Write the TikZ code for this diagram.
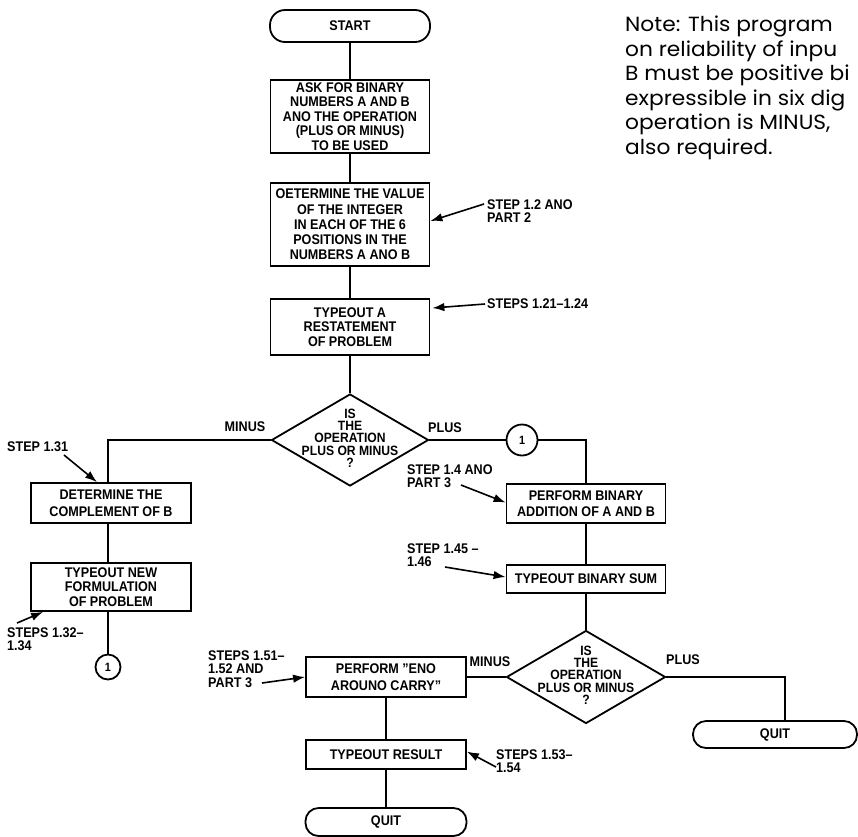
\documentclass[tikz,border=0pt]{standalone}
\usepackage{fontspec}
\setmainfont{Liberation Sans}
\newfontfamily\fc{Liberation Sans}[Ligatures=TeX, FakeStretch=0.9]
\newfontfamily\notefont{Poppins}[FakeStretch=1.06]
\usetikzlibrary{arrows.meta,shapes.geometric}
\tikzset{
  lw/.style={line width=1.8pt},
  txt/.style={font=\fc\bfseries\fontsize{14}{14.5}\selectfont, align=center, inner sep=0pt},
  lbl/.style={font=\fc\bfseries\fontsize{14}{13.5}\selectfont, align=left, inner sep=0pt, anchor=west},
  box/.style={txt, draw, lw, rectangle},
  term/.style={txt, draw, lw, rectangle, rounded corners=#1},
  dia/.style={draw, lw, diamond, inner sep=0pt},
  dtext/.style={font=\fc\bfseries\fontsize{13.5}{12.3}\selectfont, align=center, inner sep=0pt},
  conn/.style={draw, lw, circle, inner sep=0pt, font=\fc\bfseries\fontsize{12}{12}\selectfont},
  flow/.style={lw},
  ptr/.style={line width=1.6pt, -{Latex[length=12pt,width=8.5pt]}},
}
\begin{document}
\begin{tikzpicture}[x=1pt,y=-1pt]
\useasboundingbox (0,0) rectangle (858,836);

% main column
\node[term=15pt, minimum width=160pt, minimum height=32pt] (start) at (350,26) {START};
\node[box, minimum width=159pt, minimum height=73pt] (b1) at (350,116.5)
  {ASK FOR BINARY\\NUMBERS A AND B\\ANO THE OPERATION\\(PLUS OR MINUS)\\TO BE USED};
\node[box, minimum width=159pt, minimum height=83pt, font=\fc\bfseries\fontsize{14}{15.2}\selectfont] (b2) at (350,224.5)
  {OETERMINE THE VALUE\\OF THE INTEGER\\IN EACH OF THE 6\\POSITIONS IN THE\\NUMBERS A ANO B};
\node[box, minimum width=159pt, minimum height=56pt] (b3) at (350,327)
  {TYPEOUT A\\RESTATEMENT\\OF PROBLEM};
\node[dia, minimum width=157pt, minimum height=92pt] (d1) at (350,440) {};
\node[dtext] (d1t) at (350,438) {IS\\THE\\OPERATION\\PLUS OR MINUS\\?};

% right branch
\node[conn, minimum size=31pt] (c1) at (522,440) {1};
\node[box, minimum width=159pt, minimum height=39pt, font=\fc\bfseries\fontsize{14}{16.5}\selectfont] (b4) at (586,503.5)
  {PERFORM BINARY\\ADDITION OF A AND B};
\node[box, minimum width=159pt, minimum height=28pt] (b5) at (586,579) {TYPEOUT BINARY SUM};
\node[dia, minimum width=159pt, minimum height=93pt] (d2) at (586,677) {};
\node[dtext] (d2t) at (586,675) {IS\\THE\\OPERATION\\PLUS OR MINUS\\?};
\node[term=13pt, minimum width=164pt, minimum height=27pt] (q2) at (775,734.5) {QUIT};
\node[box, minimum width=160pt, minimum height=40pt, font=\fc\bfseries\fontsize{14}{16.5}\selectfont] (b6) at (386,677)
  {PERFORM "ENO\\AROUNO CARRY"};
\node[box, minimum width=160pt, minimum height=29pt] (b7) at (386,754.5) {TYPEOUT RESULT};
\node[term=13pt, minimum width=161pt, minimum height=28pt] (q1) at (386,822) {QUIT};

% left branch
\node[box, minimum width=160pt, minimum height=40pt, font=\fc\bfseries\fontsize{14}{17}\selectfont] (b8) at (111,503)
  {DETERMINE THE\\COMPLEMENT OF B};
\node[box, minimum width=160pt, minimum height=48pt] (b9) at (111,587)
  {TYPEOUT NEW\\FORMULATION\\OF PROBLEM};
\node[conn, minimum size=25pt] (c2) at (108,667) {1};

% branch labels
\node[lbl, anchor=center] (lm1) at (245,427) {MINUS};
\node[lbl, anchor=center] (lp1) at (445,428) {PLUS};
\node[lbl, anchor=center] (lm2) at (490,662) {MINUS};
\node[lbl, anchor=center] (lp2) at (683,660) {PLUS};

% flow lines
\draw[flow] (start) -- (b1);
\draw[flow] (b1) -- (b2);
\draw[flow] (b2) -- (b3);
\draw[flow] (b3) -- (d1);
\draw[flow] (d1.east) -- (c1.west);
\draw[flow] (c1.east) -| (b4.north);
\draw[flow] (b4) -- (b5);
\draw[flow] (b5) -- (d2);
\draw[flow] (d2.east) -| ([xshift=10pt]q2.north);
\draw[flow] (d2.west) -- (b6.east);
\draw[flow] (b6) -- (b7);
\draw[flow] (b7) -- (q1);
\draw[flow] (d1.west) -| ([xshift=-3pt]b8.north);
\draw[flow] ([xshift=-3pt]b8.south) -- ([xshift=-3pt]b9.north);
\draw[flow] ([xshift=-3pt]b9.south) -- (c2.north);

% annotation labels and pointers
\node[lbl] (s12) at (487,211) {STEP 1.2 ANO\\PART 2};
\coordinate (s12t) at (484,204);
\draw[ptr] (s12t) -- (b2.east |- 0,221);

\node[lbl] (s121) at (487,304) {STEPS 1.21--1.24};
\coordinate (s121t) at (485,304);
\draw[ptr] (s121t) -- ([xshift=2pt]b3.east |- 0,308);

\node[lbl] (s131) at (7,447) {STEP 1.31};
\coordinate (s131t) at (64,455);
\draw[ptr] (s131t) -- ([xshift=-14pt]b8.north);

\node[lbl] (s132) at (7,639) {STEPS 1.32--\\1.34};
\coordinate (s132t) at (17,623);
\draw[ptr] (s132t) -- ([xshift=13pt]b9.south west);

\node[lbl] (s14) at (407,476) {STEP 1.4 ANO\\PART 3};
\coordinate (s14t) at (461,485);
\draw[ptr] (s14t) -- ([yshift=1pt]b4.west);

\node[lbl] (s145) at (407,555) {STEP 1.45 --\\1.46};
\coordinate (s145t) at (445,567);
\draw[ptr] (s145t) -- ([yshift=2pt]b5.west);

\node[lbl] (s151) at (208,669) {STEPS 1.51--\\1.52 AND\\PART 3};
\coordinate (s151t) at (262,683);
\draw[ptr] (s151t) -- (b6.west);

\node[lbl] (s153) at (496,761) {STEPS 1.53--\\1.54};
\coordinate (s153t) at (496,767);
\draw[ptr] (s153t) -- ([yshift=3pt]b7.east);

% note
\node[font=\notefont\fontsize{20.5}{24.5}\selectfont, align=left, inner sep=0pt, anchor=north west] (note) at (625,16)
  {Note: This program\\on reliability of inpu\\B must be positive bi\\expressible in six dig\\operation is MINUS,\\also required.};
\end{tikzpicture}
\end{document}
